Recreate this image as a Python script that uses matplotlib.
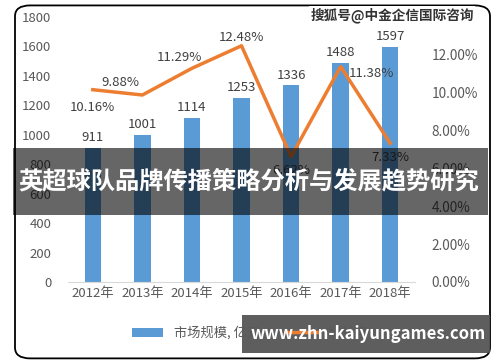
import numpy as np
import matplotlib.pyplot as plt
from matplotlib.patches import FancyBboxPatch, Rectangle
from matplotlib.ticker import FuncFormatter

plt.rcParams['font.family'] = ['Noto Sans CJK SC', 'DejaVu Sans']

years = ["2012年", "2013年", "2014年", "2015年", "2016年", "2017年", "2018年"]
market = [911, 1001, 1114, 1253, 1336, 1488, 1597]
growth = [10.16, 9.88, 11.29, 12.48, 6.62, 11.38, 7.33]
# offsets (points) of the growth labels relative to their points
label_off = [(0, -13), (-16, 9), (-9, 8), (0, 6), (0, -10), (22, -5), (0, -10)]

gray = "#595959"
blue = "#5B9BD5"
orange = "#ED7D31"

fig = plt.figure(figsize=(5, 3.62), dpi=100)
ax = fig.add_axes([0.136, 0.221, 0.694, 0.732])
x = np.arange(len(years))

bars = ax.bar(x, market, width=0.33, color=blue, label="市场规模, 亿元", zorder=2)
for b in bars:
    ax.text(b.get_x() + b.get_width() / 2, b.get_height() + 25, str(int(b.get_height())),
            ha="center", va="bottom", fontsize=9.5, color="#404040")

ax.set_ylim(0, 1800)
ax.set_yticks(range(0, 1801, 200))
ax.set_xlim(-0.5, 6.5)
ax.set_xticks(x)
ax.set_xticklabels(years)
ax.tick_params(axis="both", length=0, labelsize=9.5, colors=gray)
ax.tick_params(axis="y", pad=12)
for s in ["top", "right", "left"]:
    ax.spines[s].set_visible(False)
ax.spines["bottom"].set_color("#d9d9d9")

ax2 = ax.twinx()
line, = ax2.plot(x, growth, color=orange, lw=2.5, label="增长率", zorder=3)
ax2.set_ylim(0, 14)
ax2.set_yticks(range(0, 13, 2))
ax2.yaxis.set_major_formatter(FuncFormatter(lambda v, p: "%.2f%%" % v))
ax2.tick_params(axis="y", length=0, labelsize=9.8, colors=gray, pad=12)
for s in ax2.spines.values():
    s.set_visible(False)
for xi, g, off in zip(x, growth, label_off):
    ax2.annotate("%.2f%%" % g, (xi, g), xytext=off, textcoords="offset points",
                 ha="center", va="center", fontsize=9.5, color="#404040")

fig.legend(handles=[bars, line], loc="center", bbox_to_anchor=(0.5, 0.08), ncol=2,
           frameon=False, fontsize=9.5, labelcolor=gray, handlelength=2.4)

# rounded frame
fig.patches.append(FancyBboxPatch((0.03, 0.01), 0.95, 0.975, boxstyle="round,pad=0,rounding_size=0.03",
                                  transform=fig.transFigure, fill=False, ec="black", lw=1.3))

# watermarks / banners
fig.text(0.784, 0.958, "搜狐号@中金企信国际咨询", ha="center", va="center", fontsize=9.8,
         fontweight="bold", color="#333333",
         bbox=dict(fc="white", ec="none", pad=1))
fig.patches.append(Rectangle((0.026, 0.406), 0.95, 0.185, transform=fig.transFigure,
                             fc="black", alpha=0.6, ec="none", zorder=5))
fig.text(0.498, 0.498, "英超球队品牌传播策略分析与发展趋势研究", ha="center", va="center",
         fontsize=17.5, fontweight="bold", color="white", zorder=6)
fig.patches.append(Rectangle((0.484, 0.025), 0.496, 0.105, transform=fig.transFigure,
                             fc="#555555", alpha=0.95, ec="none", zorder=5))
fig.text(0.737, 0.077, "www.zhn-kaiyungames.com", ha="center", va="center",
         fontsize=12, fontweight="bold", color="white", zorder=6)

fig.savefig("out.png", dpi=100)
